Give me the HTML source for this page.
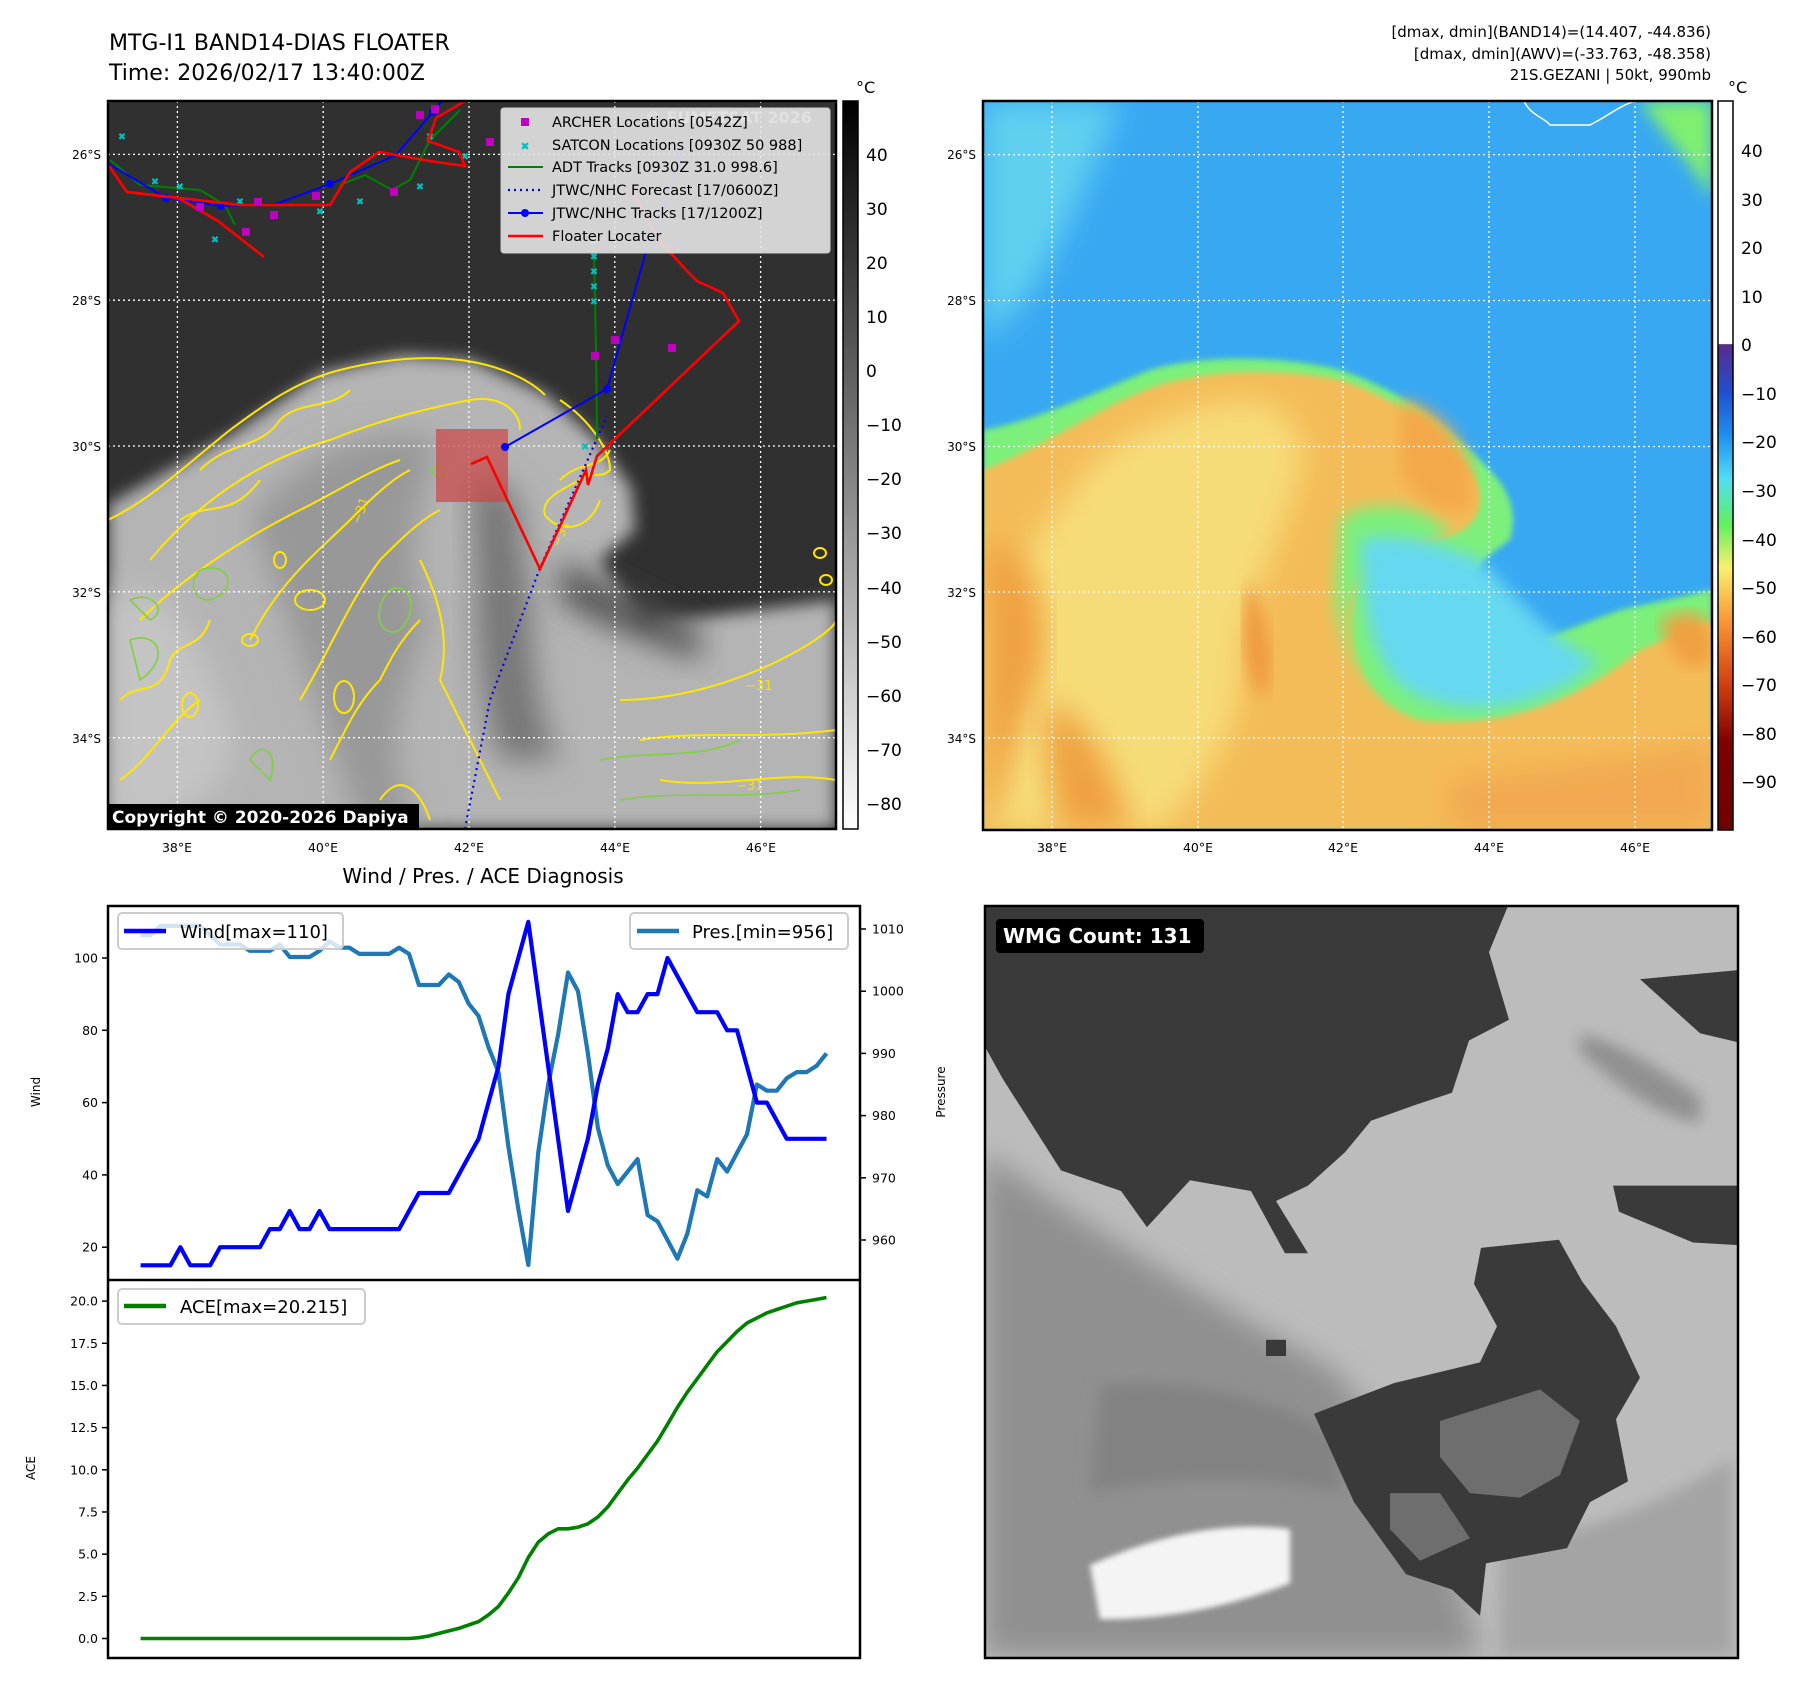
<!DOCTYPE html>
<html><head><meta charset="utf-8"><style>
html,body{margin:0;padding:0;background:#fff;}
svg{display:block;font-family:"DejaVu Sans","Liberation Sans",sans-serif;}
</style></head><body>
<svg id="root" width="1801" height="1690" viewBox="0 0 1801 1690" xmlns="http://www.w3.org/2000/svg">
<defs>
<filter id="bl8" x="-10%" y="-10%" width="120%" height="120%"><feGaussianBlur stdDeviation="8"/></filter>
<filter id="bl15" x="-20%" y="-20%" width="140%" height="140%"><feGaussianBlur stdDeviation="15"/></filter>
<filter id="bl4"><feGaussianBlur stdDeviation="3"/></filter>
<clipPath id="clipL"><rect x="108" y="101" width="728" height="728"/></clipPath>
<clipPath id="clipR"><rect x="983" y="101" width="728" height="729"/></clipPath>
<clipPath id="clipW"><rect x="985" y="906" width="753" height="752"/></clipPath>
<linearGradient id="cbL" x1="0" y1="0" x2="0" y2="1"><stop offset="0" stop-color="#000"/><stop offset="1" stop-color="#fff"/></linearGradient>
<linearGradient id="cbR" x1="0" y1="0" x2="0" y2="1">
<stop offset="0" stop-color="#fff"/><stop offset="0.333" stop-color="#fff"/><stop offset="0.334" stop-color="#5a2a8a"/>
<stop offset="0.40" stop-color="#2050d0"/><stop offset="0.46" stop-color="#2090f0"/><stop offset="0.52" stop-color="#50e0f0"/>
<stop offset="0.58" stop-color="#60f060"/><stop offset="0.64" stop-color="#f8f070"/><stop offset="0.72" stop-color="#f89030"/>
<stop offset="0.80" stop-color="#d04010"/><stop offset="0.88" stop-color="#800000"/><stop offset="1" stop-color="#700000"/></linearGradient>
</defs>

<text x="109" y="50" font-size="22">MTG-I1 BAND14-DIAS FLOATER</text>
<text x="109" y="80" font-size="22">Time: 2026/02/17 13:40:00Z</text>
<g font-size="15" text-anchor="end">
<text x="1711" y="37">[dmax, dmin](BAND14)=(14.407, -44.836)</text>
<text x="1711" y="59">[dmax, dmin](AWV)=(-33.763, -48.358)</text>
<text x="1711" y="80">21S.GEZANI | 50kt, 990mb</text>
</g>

<!-- LEFT MAP -->
<g>
<g clip-path="url(#clipL)">
<rect x="108" y="101" width="728" height="728" fill="#303030"/>
<path d="M108,505 L230,436 L321,373 L402,355 L471,360 L545,394 L597,440 L631,488 L635,530 L600,560 L640,625 L720,615 L836,600 L836,829 L108,829 Z" fill="#b4b4b4" filter="url(#bl8)"/>
<path d="M250,520 C300,450 380,420 440,440 C420,500 400,560 430,620 C400,700 380,760 420,829 L360,829 C330,740 300,650 250,520Z" fill="#989898" filter="url(#bl15)"/>
<path d="M470,480 C500,470 530,500 520,540 C540,600 520,680 560,760 L500,760 C470,680 480,600 470,480Z" fill="#777" filter="url(#bl15)"/>
<path d="M560,560 C600,580 640,600 700,630 L700,660 C640,640 590,620 560,600Z" fill="#555" filter="url(#bl15)"/>
<path d="M108,600 C150,560 200,640 220,700 C250,760 220,820 108,829Z" fill="#c4c4c4" filter="url(#bl15)"/>
<g fill="none" stroke="#ffe600" stroke-width="2">
<path d="M108,520 C150,500 180,470 230,430 C270,400 300,380 340,370 C380,360 420,355 460,360 C500,365 530,380 545,395"/>
<path d="M560,400 C590,420 610,450 610,470 C600,480 590,470 580,480 C560,490 540,500 545,515 C560,535 590,530 600,500"/>
<path d="M150,560 C200,500 260,460 330,440 C380,420 420,410 470,400 C500,395 520,410 520,430"/>
<path d="M140,620 C180,580 240,540 300,510 C340,490 370,470 400,460"/>
<path d="M250,640 C280,580 320,550 350,520 C370,500 390,480 410,470"/>
<path d="M300,700 C330,650 350,600 380,560 C400,540 420,520 440,510"/>
<path d="M420,560 C440,600 450,640 440,680 C460,720 480,760 500,800"/>
<path d="M620,700 C680,700 740,680 780,660 C820,640 836,625 836,620"/>
<path d="M640,740 C700,730 760,740 836,730"/>
<path d="M660,780 C720,790 780,770 836,780"/>
<path d="M120,780 C150,760 170,720 200,700"/>
<path d="M380,800 C400,770 420,790 430,820"/>
<path d="M200,470 C230,440 260,450 280,420 C300,400 330,410 350,390"/>
<path d="M180,520 C210,500 230,520 260,480"/>
<path d="M120,700 C140,680 160,700 170,660 C180,640 200,650 210,620"/>
<path d="M330,760 C350,720 360,700 380,680 C390,660 400,640 420,620"/>
<path d="M560,480 C580,460 600,470 610,450"/>
<ellipse cx="310" cy="600" rx="15" ry="10"/><ellipse cx="344" cy="697" rx="10" ry="16"/><ellipse cx="190" cy="705" rx="8" ry="12"/>
<ellipse cx="820" cy="553" rx="6" ry="5"/><ellipse cx="826" cy="580" rx="6" ry="5"/>
<ellipse cx="250" cy="640" rx="8" ry="6"/><ellipse cx="280" cy="560" rx="6" ry="8"/>
</g>
<g fill="none" stroke="#80d040" stroke-width="1.6">
<path d="M200,570 C230,560 240,590 210,600 C190,600 190,580 200,570Z"/>
<path d="M390,590 C410,580 420,610 400,630 C380,640 370,610 390,590Z"/>
<path d="M130,640 C160,630 170,660 140,680Z"/>
<path d="M600,760 C650,750 700,760 740,740"/>
<path d="M250,760 C260,740 280,750 270,780Z"/>
<path d="M430,470 C440,460 450,470 440,480Z"/>
<path d="M130,600 C150,590 170,610 150,620Z"/>
<path d="M620,800 C680,790 740,800 800,790"/>
</g>
<g fill="#ffe600" font-size="13" opacity="0.85"><text x="360" y="525" transform="rotate(-70 360 525)">−31</text><text x="560" y="548" transform="rotate(-70 560 548)">−31</text><text x="745" y="690">−31</text><text x="736" y="790">−31</text></g>
<g stroke="#fff" stroke-width="1.3" stroke-dasharray="2,3">
<line x1="177.4" y1="101" x2="177.4" y2="829"/><line x1="323.2" y1="101" x2="323.2" y2="829"/><line x1="469" y1="101" x2="469" y2="829"/><line x1="614.8" y1="101" x2="614.8" y2="829"/><line x1="760.6" y1="101" x2="760.6" y2="829"/>
<line x1="108" y1="154.4" x2="836" y2="154.4"/><line x1="108" y1="300.2" x2="836" y2="300.2"/><line x1="108" y1="446" x2="836" y2="446"/><line x1="108" y1="591.8" x2="836" y2="591.8"/><line x1="108" y1="737.7" x2="836" y2="737.7"/>
</g>
<rect x="436" y="429" width="72" height="73" fill="rgba(205,70,70,0.7)"/>
<polyline points="465,829 490,700 540,568 607,416" fill="none" stroke="#0000ee" stroke-width="2.2" stroke-dasharray="2,4"/>
<g stroke="#008000" stroke-width="2" fill="none">
<polyline points="594,253 596,350 597,439"/>
<polyline points="110,160 140,185 200,190 225,205 235,225"/>
<polyline points="340,185 365,175 392,190 410,180 430,140 450,120 460,110"/>
</g>
<g fill="#00c0c0" font-size="10" text-anchor="middle">
<text x="594" y="260">✖</text><text x="594" y="275">✖</text><text x="594" y="290">✖</text><text x="594" y="305">✖</text><text x="593" y="245">✖</text>
<text x="155" y="185">✖</text><text x="180" y="190">✖</text><text x="215" y="243">✖</text><text x="240" y="205">✖</text><text x="320" y="215">✖</text><text x="360" y="205">✖</text><text x="420" y="190">✖</text><text x="430" y="140">✖</text><text x="465" y="160">✖</text><text x="585" y="450">✖</text><text x="122" y="140">✖</text>
</g>
<polyline points="109,164 166,198 221,206 276,204 330,184 396,155 433,112 442,101" fill="none" stroke="#0000ff" stroke-width="2"/>
<polyline points="505,447 607,389 649,241 666,201 680,150" fill="none" stroke="#0000ff" stroke-width="2"/>
<g fill="#0000ff"><circle cx="166" cy="198" r="4"/><circle cx="221" cy="206" r="4"/><circle cx="330" cy="184" r="4"/><circle cx="433" cy="112" r="4"/><circle cx="505" cy="447" r="4"/><circle cx="607" cy="389" r="4"/></g>
<g fill="none" stroke="#ff0000" stroke-width="2.6">
<polyline points="109,166 127,192 178,198 218,221 264,257"/>
<polyline points="127,192 241,205 330,205 350,172 379,152 430,161 465,166 459,152 428,141 436,118 465,101"/>
<polyline points="631,189 660,241 686,270 697,281 723,293 739,321 597,456 588,485 586,470 540,569 487,457 471,464"/>
</g>
<g fill="#c000c0">
<rect x="416" y="111" width="8" height="8"/><rect x="431" y="105" width="8" height="8"/><rect x="486" y="138" width="8" height="8"/><rect x="196" y="203" width="8" height="8"/><rect x="254" y="198" width="8" height="8"/><rect x="270" y="211" width="8" height="8"/><rect x="242" y="228" width="8" height="8"/><rect x="312" y="192" width="8" height="8"/><rect x="390" y="188" width="8" height="8"/><rect x="611" y="336" width="8" height="8"/><rect x="591" y="352" width="8" height="8"/><rect x="668" y="344" width="8" height="8"/>
</g>
</g>
<rect x="108" y="101" width="728" height="728" fill="none" stroke="#000" stroke-width="2.5"/>
<g>
<text x="645" y="123" font-size="16" font-weight="bold" fill="#bbb">© EUMETSAT 2026</text>
<rect x="501" y="108" width="329" height="145" rx="3" fill="#e6e6e6" fill-opacity="0.9" stroke="#ccc"/>
<g font-size="14.5" fill="#000">
<rect x="521" y="118" width="8" height="8" fill="#c000c0"/><text x="552" y="127">ARCHER Locations [0542Z]</text>
<text x="525" y="150" fill="#00c0c0" font-size="11" text-anchor="middle">✖</text><text x="552" y="150">SATCON Locations [0930Z 50 988]</text>
<line x1="508" y1="167" x2="543" y2="167" stroke="#008000" stroke-width="2"/><text x="552" y="172">ADT Tracks [0930Z 31.0 998.6]</text>
<line x1="508" y1="190" x2="543" y2="190" stroke="#0000ee" stroke-width="2.2" stroke-dasharray="2,4"/><text x="552" y="195">JTWC/NHC Forecast [17/0600Z]</text>
<line x1="508" y1="213" x2="543" y2="213" stroke="#0000ff" stroke-width="2"/><circle cx="525" cy="213" r="4" fill="#0000ff"/><text x="552" y="218">JTWC/NHC Tracks [17/1200Z]</text>
<line x1="508" y1="236" x2="543" y2="236" stroke="#ff0000" stroke-width="2.6"/><text x="552" y="241">Floater Locater</text>
</g></g>
<rect x="107" y="804" width="312" height="25" fill="#000"/>
<text x="112" y="823" font-size="17" font-weight="bold" fill="#fff">Copyright © 2020-2026 Dapiya</text>
<g font-size="12" text-anchor="end">
<text x="101" y="159">26°S</text><text x="101" y="305">28°S</text><text x="101" y="451">30°S</text><text x="101" y="597">32°S</text><text x="101" y="743">34°S</text></g>
<g font-size="12.5" text-anchor="middle">
<text x="177" y="852">38°E</text><text x="323" y="852">40°E</text><text x="469" y="852">42°E</text><text x="615" y="852">44°E</text><text x="761" y="852">46°E</text></g>
<rect x="843" y="101" width="15" height="728" fill="url(#cbL)" stroke="#000" stroke-width="1.5"/>
<text x="856" y="93" font-size="16">°C</text>
<g font-size="17">
<text x="866" y="161">40</text><text x="866" y="215">30</text><text x="866" y="269">20</text><text x="866" y="323">10</text><text x="866" y="377">0</text><text x="866" y="431">−10</text><text x="866" y="485">−20</text><text x="866" y="539">−30</text><text x="866" y="594">−40</text><text x="866" y="648">−50</text><text x="866" y="702">−60</text><text x="866" y="756">−70</text><text x="866" y="810">−80</text></g>
</g>

<!-- RIGHT MAP -->
<g>
<g clip-path="url(#clipR)">
<rect x="983" y="101" width="729" height="729" fill="#38a8f2"/>
<path d="M983,101 L1120,101 C1080,200 1040,300 983,340Z" fill="#60d0f0" filter="url(#bl15)"/>
<path d="M1640,101 L1712,101 L1712,200 C1690,160 1660,130 1640,101Z" fill="#80f070" filter="url(#bl8)"/>
<path d="M983,430 C1040,420 1100,390 1150,370 C1200,355 1280,355 1340,370 C1400,390 1440,420 1480,460 C1500,480 1520,500 1510,540 C1480,560 1460,580 1470,620 L1540,640 L1620,610 L1712,590 L1712,830 L983,830Z" fill="#7cf07a" filter="url(#bl4)"/>
<path d="M983,470 C1040,450 1110,400 1160,385 C1210,370 1280,368 1340,380 C1400,400 1440,430 1470,470 C1490,500 1480,530 1440,540 C1400,550 1380,560 1360,580 C1340,640 1360,700 1420,720 C1500,730 1580,700 1640,650 L1712,620 L1712,830 L983,830Z" fill="#f4bc58" filter="url(#bl4)"/>
<path d="M1340,520 C1360,500 1420,500 1450,530 C1420,560 1380,560 1350,600 C1340,650 1380,700 1440,720 C1380,710 1340,660 1335,600Z" fill="#7cf07a" filter="url(#bl8)"/>
<path d="M1360,540 C1400,530 1440,545 1480,560 C1520,600 1560,650 1600,660 C1560,700 1480,720 1430,700 C1390,690 1370,650 1365,600Z" fill="#66d8f0" filter="url(#bl8)"/>
<path d="M1080,480 C1120,430 1180,410 1240,400 C1280,400 1310,430 1300,470 C1280,540 1250,600 1240,650 C1250,720 1200,790 1160,830 L983,830 L983,600 C1020,560 1050,520 1080,480Z" fill="#f6dc78" filter="url(#bl15)"/>
<path d="M1000,540 C1040,560 1060,640 1030,700 C1010,760 1000,800 990,830 L983,830 L983,560Z" fill="#f0a040" filter="url(#bl15)"/>
<path d="M1050,700 C1090,720 1120,780 1130,830 L1060,830 C1050,780 1040,740 1050,700Z" fill="#f0a040" filter="url(#bl15)"/>
<path d="M1400,400 C1450,410 1480,460 1470,510 C1450,520 1410,500 1400,470Z" fill="#f4a848" filter="url(#bl8)"/>
<path d="M1250,580 C1270,620 1280,680 1260,700 C1240,660 1240,620 1250,580Z" fill="#ee9a40" filter="url(#bl8)"/>
<path d="M1450,780 C1550,770 1650,760 1712,740 L1712,830 L1450,830Z" fill="#f2a850" filter="url(#bl15)"/>
<path d="M1660,620 C1690,610 1712,600 1712,660 C1690,680 1670,660 1660,620Z" fill="#f0a040" filter="url(#bl8)"/>
<path d="M1524,101 C1530,115 1545,118 1550,125 L1590,125 C1610,115 1620,105 1636,101" fill="none" stroke="#fff" stroke-width="1.5"/>
<g stroke="#fff" stroke-width="1.3" stroke-dasharray="2,3">
<line x1="1052" y1="101" x2="1052" y2="830"/><line x1="1198" y1="101" x2="1198" y2="830"/><line x1="1343" y1="101" x2="1343" y2="830"/><line x1="1489" y1="101" x2="1489" y2="830"/><line x1="1635" y1="101" x2="1635" y2="830"/>
<line x1="983" y1="154.6" x2="1712" y2="154.6"/><line x1="983" y1="300.5" x2="1712" y2="300.5"/><line x1="983" y1="446.5" x2="1712" y2="446.5"/><line x1="983" y1="592" x2="1712" y2="592"/><line x1="983" y1="738" x2="1712" y2="738"/>
</g></g>
<rect x="983" y="101" width="729" height="729" fill="none" stroke="#000" stroke-width="2.5"/>
<g font-size="12" text-anchor="end"><text x="976" y="159">26°S</text><text x="976" y="305">28°S</text><text x="976" y="451">30°S</text><text x="976" y="597">32°S</text><text x="976" y="743">34°S</text></g>
<g font-size="12.5" text-anchor="middle"><text x="1052" y="852">38°E</text><text x="1198" y="852">40°E</text><text x="1343" y="852">42°E</text><text x="1489" y="852">44°E</text><text x="1635" y="852">46°E</text></g>
<rect x="1718" y="101" width="15" height="729" fill="url(#cbR)" stroke="#000" stroke-width="1.5"/>
<text x="1728" y="93" font-size="16">°C</text>
<g font-size="17"><text x="1741" y="157">40</text><text x="1741" y="206">30</text><text x="1741" y="254">20</text><text x="1741" y="303">10</text><text x="1741" y="351">0</text><text x="1741" y="400">−10</text><text x="1741" y="448">−20</text><text x="1741" y="497">−30</text><text x="1741" y="546">−40</text><text x="1741" y="594">−50</text><text x="1741" y="643">−60</text><text x="1741" y="691">−70</text><text x="1741" y="740">−80</text><text x="1741" y="788">−90</text></g>
</g>

<!-- WMG panel -->
<g>
<g clip-path="url(#clipW)">
<rect x="985" y="906" width="753" height="752" fill="#bcbcbc"/>
<g transform="translate(0,880) scale(1,0.9016) translate(0,-880)">
<path d="M983,1180 C1080,1260 1200,1340 1330,1420 C1400,1500 1450,1600 1480,1740 L983,1740Z" fill="#909090" filter="url(#bl15)"/>
<path d="M1100,1440 C1200,1430 1280,1460 1340,1500 L1340,1560 C1260,1540 1180,1540 1090,1560Z" fill="#828282" filter="url(#bl8)"/>
<path d="M1090,1640 C1150,1610 1220,1590 1290,1600 L1290,1660 C1220,1690 1160,1700 1100,1700Z" fill="#f4f4f4" filter="url(#bl4)"/>
<path d="M1500,1620 C1600,1600 1680,1560 1733,1520 L1733,1740 L1500,1740Z" fill="#a4a4a4" filter="url(#bl8)"/>
<path d="M1580,1050 C1620,1060 1660,1090 1700,1120 L1700,1150 C1650,1140 1610,1100 1580,1070Z" fill="#909090" filter="url(#bl8)"/>
<path fill="#3a3a3a" d="M983,906 L1509,906 L1489,960 L1509,1035 L1469,1058 L1452,1116 L1414,1130 L1371,1147 L1345,1182 L1308,1219 L1276,1236 L1308,1294 L1285,1294 L1251,1225 L1190,1213 L1147,1265 L1121,1225 L1061,1202 L1003,1101 L983,1061Z"/>
<path fill="#3a3a3a" d="M1481,1288 L1559,1279 L1582,1325 L1616,1375 L1640,1432 L1616,1478 L1628,1547 L1590,1570 L1567,1621 L1486,1638 L1480,1696 L1452,1667 L1406,1650 L1354,1570 L1314,1472 L1394,1438 L1480,1415 L1497,1375 L1474,1328Z"/>
<path fill="#3a3a3a" d="M1613,1219 L1738,1219 L1738,1285 L1693,1282 L1619,1248Z"/>
<path fill="#3a3a3a" d="M1640,990 L1738,980 L1738,1060 L1700,1050Z"/>
<path fill="#6e6e6e" d="M1440,1480 L1540,1445 L1580,1480 L1560,1540 L1520,1565 L1470,1560 L1440,1520Z"/>
<path fill="#6e6e6e" d="M1390,1560 L1440,1560 L1470,1610 L1420,1635 L1390,1600Z"/>
<rect x="1266" y="1390" width="20" height="18" fill="#3a3a3a"/>
</g>
</g>
<rect x="985" y="906" width="753" height="752" fill="none" stroke="#000" stroke-width="2.5"/>
<rect x="996" y="919" width="208" height="34" rx="4" fill="#000"/>
<text x="1003" y="943" font-size="20" font-weight="bold" fill="#fff">WMG Count: 131</text>
</g>

<!-- DIAGNOSIS CHART -->
<g id="diag">
<text x="483" y="883" font-size="20" text-anchor="middle">Wind / Pres. / ACE Diagnosis</text>
<rect x="108" y="906" width="752" height="752" fill="#fff" stroke="#000" stroke-width="2.5"/>
<line x1="108" y1="1280" x2="860" y2="1280" stroke="#000" stroke-width="2.5"/>
<text transform="translate(40,1092) rotate(-90)" font-size="12" text-anchor="middle">Wind</text>
<text transform="translate(35,1468) rotate(-90)" font-size="12" text-anchor="middle">ACE</text>
<text transform="translate(945,1092) rotate(-90)" font-size="12" text-anchor="middle">Pressure</text>
<g id="ticks"></g>
<g id="series"></g>
<g>
<rect x="118" y="913" width="225" height="36" rx="4" fill="#fff" fill-opacity="0.8" stroke="#ccc" stroke-width="2"/>
<line x1="124" y1="931" x2="166" y2="931" stroke="#0000ff" stroke-width="4.5"/>
<text x="180" y="938" font-size="18">Wind[max=110]</text></g>
<g>
<rect x="630" y="913" width="218" height="36" rx="4" fill="#fff" fill-opacity="0.8" stroke="#ccc" stroke-width="2"/>
<line x1="637" y1="931" x2="679" y2="931" stroke="#1f77b4" stroke-width="4.5"/>
<text x="692" y="938" font-size="18">Pres.[min=956]</text></g>
<g>
<rect x="118" y="1289" width="247" height="35" rx="4" fill="#fff" fill-opacity="0.8" stroke="#ccc" stroke-width="2"/>
<line x1="124" y1="1306" x2="166" y2="1306" stroke="#008000" stroke-width="4.5"/>
<text x="180" y="1313" font-size="18">ACE[max=20.215]</text></g>
</g>
</svg>
<script>
const windValues=[15,15,15,15,20,15,15,15,20,20,20,20,20,25,25,30,25,25,30,25,25,25,25,25,25,25,25,30,35,35,35,35,40,45,50,60,70,90,100,110,90,70,50,30,40,50,65,75,90,85,85,90,90,100,95,90,85,85,85,80,80,70,60,60,55,50,50,50,50,50];
const presValues=[1009,1009,1010.5,1010.5,1010.5,1010.5,1010.5,1009,1007.5,1007.5,1007.5,1006.5,1006.5,1006.5,1007.5,1005.5,1005.5,1005.5,1006.5,1008,1007,1007,1006,1006,1006,1006,1007,1006,1001,1001,1001,1002.7,1001.5,998,996,991,987,975,965,956,974,985,993,1003,1000,990,978,972,969,971,973,964,963,960,957,961,968,967,973,971,974,977,985,984,984,986,987,987,988,990];
const aceValues=[0,0,0,0,0,0,0,0,0,0,0,0,0,0,0,0,0,0,0,0,0,0,0,0,0,0,0,0,0.05,0.15,0.3,0.45,0.6,0.8,1.0,1.4,1.9,2.7,3.6,4.8,5.7,6.2,6.5,6.5,6.6,6.8,7.2,7.8,8.6,9.4,10.1,10.9,11.7,12.7,13.7,14.6,15.4,16.2,17.0,17.6,18.2,18.7,19.0,19.3,19.5,19.7,19.9,20.0,20.1,20.215];
const windTicks=[20,40,60,80,100];
const presTicks=[960,970,980,990,1000,1010];
const aceTicks=[0,2.5,5,7.5,10,12.5,15,17.5,20];
const NS='http://www.w3.org/2000/svg';
const xIdx=i=>140.6+i*(826.5-140.6)/(windValues.length-1);
const yWind=v=>958-(v-100)*3.615;
const yPres=p=>929-(p-1010)*6.22;
const yAce=a=>1638.5-a*16.87;
const tg=document.getElementById('ticks'), sg=document.getElementById('series');
function mk(tag,attrs,parent){const e=document.createElementNS(NS,tag);for(const k in attrs)e.setAttribute(k,attrs[k]);parent.appendChild(e);return e;}
windTicks.forEach(v=>{const y=yWind(v);
 const l=mk('line',{x1:102,x2:108,y1:y,y2:y,stroke:'#000','stroke-width':1.5},tg);
 
 
 const t=mk('text',{x:98,y:y+4.5,'font-size':12.5,'text-anchor':'end'},tg);t.textContent=v;
 
 });
presTicks.forEach(v=>{const y=yPres(v);
 const l=mk('line',{x1:860,x2:866,y1:y,y2:y,stroke:'#000','stroke-width':1.5},tg);
 
 
 const t=mk('text',{x:872,y:y+4.5,'font-size':12.5},tg);t.textContent=v;
 
 });
aceTicks.forEach(v=>{const y=yAce(v);
 const l=mk('line',{x1:102,x2:108,y1:y,y2:y,stroke:'#000','stroke-width':1.5},tg);
 
 
 const t=mk('text',{x:98,y:y+4.5,'font-size':12.5,'text-anchor':'end'},tg);t.textContent=v.toFixed(1);
 
 });
function line(vals,yf,color,w,name){
 const pts=vals.map((v,i)=>xIdx(i).toFixed(1)+','+yf(v).toFixed(1)).join(' ');
 const p=mk('polyline',{points:pts,fill:'none',stroke:color,'stroke-width':w,'stroke-linejoin':'round'},sg);
 
 }
line(presValues,yPres,'#1f77b4',4.2,'pressure-line');
line(windValues,yWind,'#0000ff',4.2,'wind-line');
line(aceValues,yAce,'#008000',3.6,'ace-line');
</script>
</body></html>
